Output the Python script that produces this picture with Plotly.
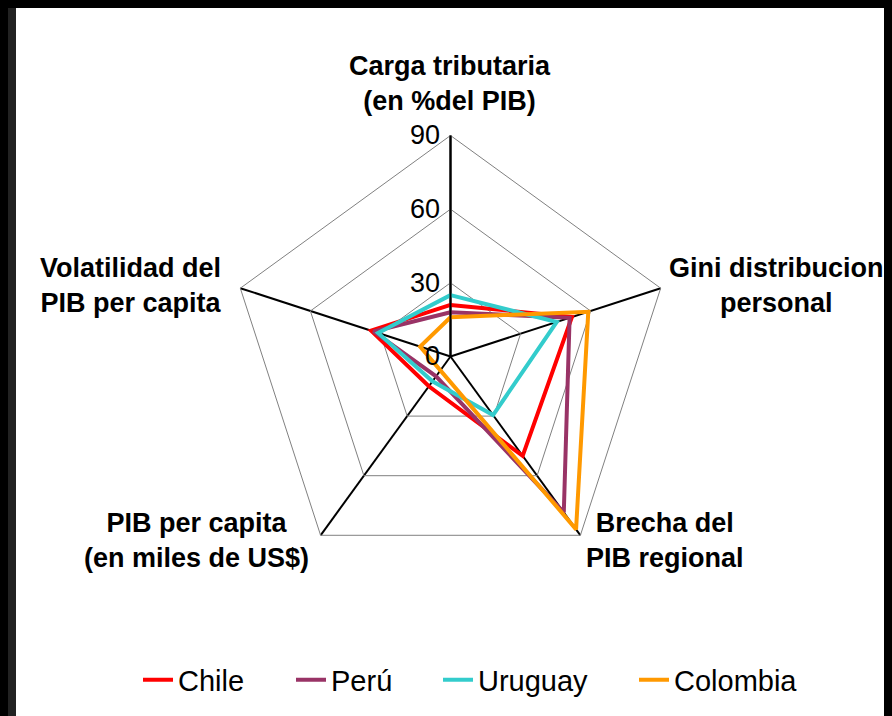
import plotly.graph_objects as go

# The page body adds an 8px offset; figure sized to fit the window exactly.
OFF = 8
W, H = 892 - OFF, 716 - OFF

categories = [
    "Carga tributaria (en %del PIB)",
    "Gini distribucion personal",
    "Brecha del PIB regional",
    "PIB per capita (en miles de US$)",
    "Volatilidad del PIB per capita",
]
category_labels = [
    "Carga tributaria<br>(en %del PIB)",
    "Gini distribucion<br>personal",
    "Brecha del<br>PIB regional",
    "PIB per capita<br>(en miles de US$)",
    "Volatilidad del<br>PIB per capita",
]
series_names = ["Chile", "Perú", "Uruguay", "Colombia"]
chile = [21, 52, 50, 15, 34]
peru = [18, 51, 78.5, 10, 33]
uruguay = [25, 45.5, 29.5, 12.5, 31]
colombia = [16, 59, 87, 7, 13]
radial_ticks = [0, 30, 60, 90]

series_values = [chile, peru, uruguay, colombia]
colors = ["#FF0000", "#993366", "#33CCCC", "#FF9900"]


def px(x):
    return (x - OFF) / W


def py(y):
    return (H - (y - OFF)) / H


legend_ids = ["legend", "legend2", "legend3", "legend4"]
legend_x = [138, 291, 438, 634]

fig = go.Figure()
for name, vals, col, lid in zip(series_names, series_values, colors, legend_ids):
    fig.add_trace(go.Scatterpolar(
        r=vals + [vals[0]],
        theta=categories + [categories[0]],
        mode="lines",
        name=name,
        legend=lid,
        line=dict(color=col, width=4),
    ))

cx, cy, R = 450.5, 356.5, 221
fig.update_layout(
    width=W, height=H,
    margin=dict(l=0, r=0, t=0, b=0),
    paper_bgcolor="#000000",
    font=dict(family="Liberation Sans, Arial, sans-serif", color="#000000"),
    polar=dict(
        domain=dict(x=[px(cx - R), px(cx + R)],
                    y=[py(cy + R), py(cy - R)]),
        bgcolor="rgba(0,0,0,0)",
        gridshape="linear",
        angularaxis=dict(
            rotation=90, direction="clockwise",
            showticklabels=False, ticks="",
            showline=True, linecolor="#808080", linewidth=1,
            showgrid=True, gridcolor="#000000", gridwidth=2,
        ),
        radialaxis=dict(
            range=[0, 90], tickvals=radial_ticks,
            angle=90, side="counterclockwise", tickangle=90,
            showline=True, linecolor="#000000", linewidth=2,
            ticks="", showgrid=True, gridcolor="#808080", gridwidth=1,
            tickfont=dict(size=27, color="#000000"),
        ),
    ),
    showlegend=True,
    shapes=[
        dict(type="rect", xref="paper", yref="paper", x0=0, x1=px(16), y0=0, y1=1,
             fillcolor="#222222", line=dict(width=0), layer="below"),
        dict(type="rect", xref="paper", yref="paper", x0=px(16), x1=px(886), y0=0, y1=py(7),
             fillcolor="#FFFFFF", line=dict(width=0), layer="below"),
    ],
)

for lid, lx in zip(legend_ids, legend_x):
    fig.update_layout({lid: dict(
        orientation="h", x=px(lx), xanchor="left", y=py(680), yanchor="middle",
        font=dict(size=29, color="#000000"), bgcolor="rgba(0,0,0,0)",
        itemwidth=30,
    )})

label_pos = [(450, 83.5), (776, 285.5), (665, 540), (196, 540), (131, 285.5)]
for text, (x, y) in zip(category_labels, label_pos):
    fig.add_annotation(
        text="<b>" + text + "</b>", x=px(x), y=py(y), xref="paper", yref="paper",
        xanchor="center", yanchor="middle", align="center", showarrow=False,
        font=dict(size=27, color="#000000"),
    )

fig.write_html(
    "out.html",
    post_script="document.body.style.background='#000000';",
)
